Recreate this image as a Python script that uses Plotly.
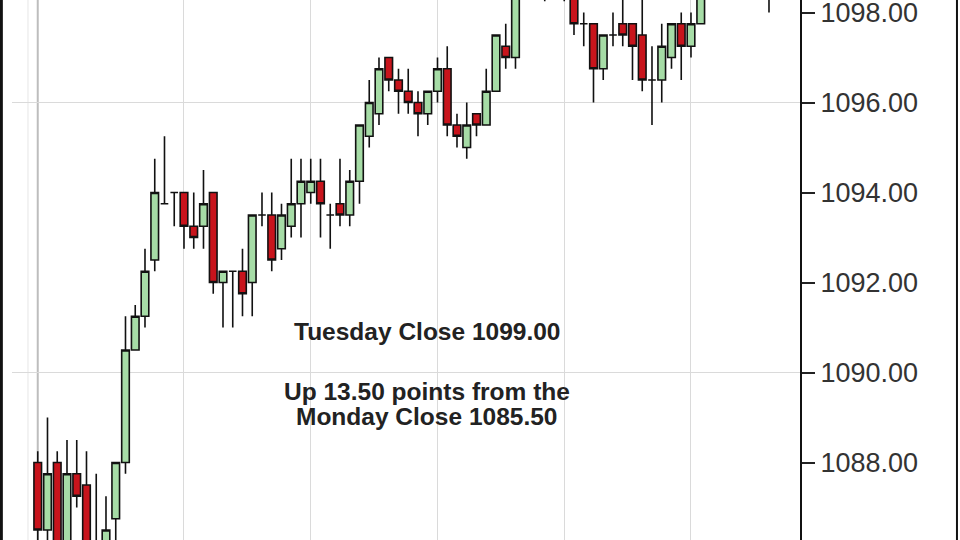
import plotly.graph_objects as go

# ---- data ----
bar_index = list(range(76))
opens = [1088.0, 1086.5, 1088.0, 1086.0, 1087.75, 1087.5, 1086.0, 1085.75, 1086.75, 1088.0,
         1090.5, 1091.25, 1092.5, 1093.75, 1094.0, 1094.0, 1093.25, 1093.25, 1094.0, 1092.0,
         1092.25, 1092.25, 1092.0, 1093.5, 1093.5, 1092.75, 1093.25, 1093.75, 1094.0, 1094.25,
         1093.5, 1093.75, 1093.5, 1094.25, 1095.25, 1095.75, 1097.0, 1096.5, 1096.25, 1096.0,
         1095.75, 1096.25, 1096.75, 1095.5, 1095.0, 1095.75, 1095.5, 1096.25, 1097.25, 1097.0,
         1098.5, 1099.0, 1099.0, 1098.75, 1099.0, 1098.5, 1097.75, 1097.75, 1096.75, 1097.5,
         1097.75, 1097.75, 1097.5, 1096.5, 1096.5, 1097.0, 1097.75, 1097.25, 1097.75, 1098.5,
         1098.75, 1099.0, 1099.25, 1099.0, 1098.75, 1098.75]
highs = [1088.25, 1089.0, 1088.25, 1088.5, 1088.5, 1088.25, 1087.75, 1087.25, 1088.0, 1091.25,
         1091.5, 1092.75, 1094.75, 1095.25, 1094.0, 1094.0, 1094.0, 1094.5, 1094.0, 1092.25,
         1092.25, 1092.75, 1093.5, 1094.0, 1094.0, 1093.75, 1094.75, 1094.75, 1094.75, 1094.75,
         1093.75, 1094.75, 1094.5, 1095.5, 1096.5, 1097.0, 1097.0, 1096.75, 1096.75, 1096.25,
         1096.25, 1097.0, 1097.25, 1095.75, 1096.0, 1095.75, 1096.75, 1097.5, 1097.75, 1098.75,
         1099.25, 1099.5, 1099.25, 1099.25, 1099.25, 1098.75, 1098.0, 1097.75, 1097.5, 1098.0,
         1098.5, 1097.75, 1098.5, 1097.25, 1097.75, 1097.75, 1098.0, 1098.0, 1098.75, 1099.0,
         1099.25, 1099.5, 1099.5, 1099.25, 1099.0, 1099.25]
lows = [1086.0, 1086.25, 1085.75, 1085.75, 1087.0, 1085.75, 1085.5, 1085.5, 1086.0, 1087.75,
        1090.5, 1091.0, 1092.25, 1093.75, 1093.25, 1092.75, 1092.75, 1092.75, 1091.75, 1091.0,
        1091.0, 1091.25, 1091.25, 1093.25, 1092.25, 1092.5, 1093.0, 1093.0, 1093.75, 1093.0,
        1092.75, 1093.25, 1093.25, 1093.75, 1095.0, 1095.5, 1096.25, 1095.75, 1095.75, 1095.25,
        1095.5, 1096.0, 1095.25, 1095.0, 1094.75, 1095.25, 1095.5, 1096.25, 1096.75, 1096.75,
        1098.5, 1098.75, 1098.25, 1098.5, 1098.25, 1097.5, 1097.25, 1096.0, 1096.5, 1097.25,
        1097.25, 1096.5, 1096.25, 1095.5, 1096.0, 1096.75, 1096.5, 1097.0, 1097.75, 1098.5,
        1098.5, 1098.75, 1098.75, 1098.5, 1098.5, 1098.0]
closes = [1086.5, 1087.75, 1086.0, 1087.75, 1087.25, 1086.0, 1085.75, 1086.5, 1088.0, 1090.5,
          1091.25, 1092.25, 1094.0, 1093.75, 1094.0, 1093.25, 1093.0, 1093.75, 1092.0, 1092.25,
          1092.25, 1091.75, 1093.5, 1093.5, 1092.5, 1093.5, 1093.75, 1094.25, 1094.25, 1093.75,
          1093.5, 1093.5, 1094.25, 1095.5, 1096.0, 1096.75, 1096.5, 1096.25, 1096.0, 1095.75,
          1096.25, 1096.75, 1095.5, 1095.25, 1095.5, 1095.5, 1096.25, 1097.5, 1097.0, 1098.5,
          1099.0, 1099.25, 1098.75, 1099.0, 1098.5, 1097.75, 1097.75, 1096.75, 1097.5, 1097.5,
          1097.5, 1097.25, 1096.5, 1096.5, 1097.25, 1097.75, 1097.25, 1097.75, 1098.5, 1098.75,
          1099.0, 1099.25, 1099.0, 1098.75, 1098.75, 1099.0]

price_ticks = [1088, 1090, 1092, 1094, 1096, 1098]
price_grid = [1090, 1096]
time_grid = [15, 28, 41, 54, 67]
note_lines = ["Tuesday Close 1099.00", "Up 13.50 points from the", "Monday Close 1085.50"]

FONT = "Liberation Sans, Arial, sans-serif"

fig = go.Figure(go.Candlestick(
    x=bar_index, open=opens, high=highs, low=lows, close=closes,
    increasing=dict(fillcolor="#a6dca6", line=dict(color="#111111", width=1.6)),
    decreasing=dict(fillcolor="#c8141c", line=dict(color="#111111", width=1.6)),
    whiskerwidth=0, showlegend=False, hoverinfo="skip",
))

fig.update_layout(
    width=960, height=540,
    margin=dict(l=12, r=160, t=0, b=0, autoexpand=False),
    paper_bgcolor="white", plot_bgcolor="white",
    boxgap=0.22, boxgroupgap=0,
    showlegend=False,
    xaxis=dict(
        range=[-2.64, 78.18], rangeslider=dict(visible=False), automargin=False,
        tickmode="array", tickvals=time_grid, showticklabels=False, ticks="",
        showgrid=True, gridcolor="#dadada", gridwidth=1, zeroline=False, showline=False,
    ),
    yaxis=dict(
        side="right", range=[1086.278, 1098.278], automargin=False,
        tickmode="array", tickvals=price_ticks, tickformat=".2f",
        ticks="outside", ticklen=13, tickwidth=2, tickcolor="#222222",
        ticklabeloverflow="allow",
        tickfont=dict(family=FONT, size=27, color="#333333"),
        showgrid=False, zeroline=False,
        showline=True, linecolor="#111111", linewidth=2,
        minor=dict(tickmode="array", tickvals=price_grid, showgrid=True,
                   gridcolor="#dadada", gridwidth=1, ticks=""),
    ),
)

# session separator and frame lines
fig.add_shape(type="line", xref="x", yref="paper", x0=0, x1=0, y0=0, y1=1,
              line=dict(color="#bdbdbd", width=2), layer="below")
fig.add_shape(type="line", xref="x", yref="paper", x0=-1, x1=-1, y0=0, y1=1,
              line=dict(color="#e6e6e6", width=1), layer="below")
fig.add_shape(type="line", xref="paper", yref="paper", x0=-0.0135, x1=-0.0135, y0=0, y1=1,
              line=dict(color="#111111", width=3))
fig.add_shape(type="line", xref="paper", yref="paper", x0=1.1992, x1=1.1992, y0=0, y1=1,
              line=dict(color="#111111", width=2))

note_y = [0.3852, 0.2759, 0.2296]
for txt, yy in zip(note_lines, note_y):
    fig.add_annotation(text="<b>" + txt + "</b>", xref="paper", yref="paper",
                       x=0.5266, y=yy, xanchor="center", yanchor="middle",
                       showarrow=False, font=dict(family=FONT, size=24.5, color="#222222"))

fig.write_html("out.html", config={"displayModeBar": False},
               post_script="document.body.style.margin='0';document.body.style.overflow='hidden';")
